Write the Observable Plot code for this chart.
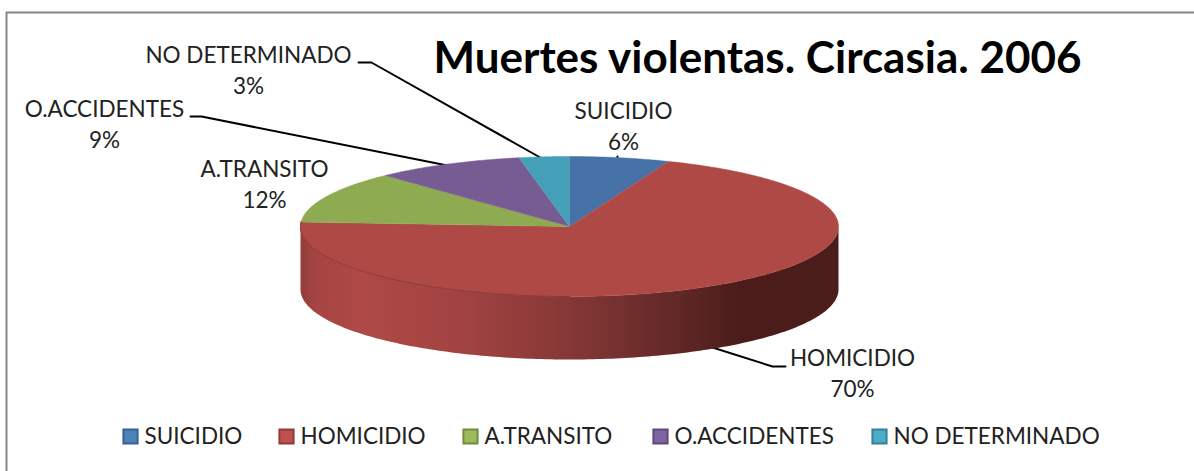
<!DOCTYPE html>
<html><head><meta charset="utf-8">
<script src="https://cdn.jsdelivr.net/npm/d3@7"></script>
<script src="https://cdn.jsdelivr.net/npm/@observablehq/plot@0.6"></script>
<style>html,body{margin:0;padding:0;background:#fff}svg{display:block}</style>
</head><body><div id="chart"></div>
<script>
const categories = ["SUICIDIO","HOMICIDIO","A.TRANSITO","O.ACCIDENTES","NO DETERMINADO"];
const percents = [6,70,12,9,3];
const faceColors = ["#4672A8","#AE4946","#8FAB51","#775B93","#449FB8"];
const swatchColors = ["#4F81BD","#C0504D","#9BBB59","#8064A2","#4BACC6"];
const swatchBorders = ["#3A6193","#8F3B39","#718B42","#5F4A79","#37809A"];

const W = 1194, H = 471;
const pie = {cx:569, cy:226, rx:269, ry:70, depth:63};
const arcPoint = (deg, dy=0) => {
  const a = deg*Math.PI/180;
  return {x: pie.cx + pie.rx*Math.sin(a), y: pie.cy - pie.ry*Math.cos(a) + dy};
};
// top-face polygons from the percentages
const faces = [];
let acc = 0;
categories.forEach((c,i)=>{
  const a0 = acc*3.6, a1 = (acc+percents[i])*3.6;
  faces.push({slice:c, x:pie.cx, y:pie.cy});
  for (let d=a0; d<a1; d+=0.5) faces.push({slice:c, ...arcPoint(d)});
  faces.push({slice:c, ...arcPoint(a1)});
  acc += percents[i];
});
// visible side wall: the front half of the rim
const wall = [];
for (let d=90; d<=270; d+=1) wall.push(arcPoint(d));
for (let d=270; d>=90; d-=1) wall.push(arcPoint(d, pie.depth));
const rim = [];
for (let d=180; d<=274; d+=1) rim.push(arcPoint(d));

const labelPos = [
  {name:0, x:623, y:111},
  {name:1, x:852, y:358},
  {name:2, x:264, y:169},
  {name:3, x:104, y:109},
  {name:4, x:248, y:55}
];
const labels = labelPos.flatMap(p=>[
  {x:p.x, y:p.y, t:categories[p.name]},
  {x:p.x, y:p.y+31.5, t:percents[p.name]+"%"}
]);
const leaders = [
  {id:"nd", x:358,y:62},{id:"nd", x:371,y:62},{id:"nd", x:545,y:160},
  {id:"oa", x:190,y:116},{id:"oa", x:201,y:116},{id:"oa", x:452,y:166},
  {id:"ho", x:712,y:347},{id:"ho", x:772,y:366},{id:"ho", x:785,y:366},
  {id:"su", x:617,y:156},{id:"su", x:617,y:158}
];
const legendX = [122,278,462,652,871];
const legendY = 436;
const legend = categories.map((c,i)=>({c, x:legendX[i]+8, tx:legendX[i]+22, fill:swatchColors[i], stroke:swatchBorders[i]}));
const frame = [{x:6,y:471},{x:6,y:12},{x:1194,y:12}];

const defs = () => {
  const d = d3.create("svg:defs");
  const g = d.append("linearGradient").attr("id","side").attr("gradientUnits","userSpaceOnUse")
    .attr("x1",pie.cx-pie.rx).attr("x2",pie.cx+pie.rx).attr("y1",0).attr("y2",0);
  [[0,"#933D3B"],[0.03,"#A64543"],[0.12,"#AE4946"],[0.3,"#A24341"],[0.5,"#853836"],[0.68,"#642A28"],[0.82,"#4B1C1A"],[1,"#4B1D1B"]]
    .forEach(([o,c])=>g.append("stop").attr("offset",o).attr("stop-color",c));
  return d.node();
};

const font = "Lato, Carlito, Calibri, sans-serif";
const chart = Plot.plot({
  width:W, height:H, margin:0,
  style:{background:"#fff", fontFamily:font},
  x:{type:"identity", axis:null}, y:{type:"identity", axis:null},
  color:{domain:categories, range:faceColors},
  marks:[
    defs,
    Plot.line(frame,{x:"x",y:"y",stroke:"#868686",strokeWidth:2}),
    Plot.line(leaders,{x:"x",y:"y",z:"id",stroke:"#000",strokeWidth:2}),
    Plot.line(wall,{x:"x",y:"y",fill:"url(#side)",stroke:"none"}),
    Plot.line(faces,{x:"x",y:"y",z:"slice",fill:"slice",stroke:"slice",strokeWidth:0.5}),
    Plot.line(rim,{x:"x",y:"y",stroke:"#8A3836",strokeWidth:1}),
    Plot.text(labels,{x:"x",y:"y",text:"t",fontSize:22.5,fill:"#222",textAnchor:"middle",lineAnchor:"middle"}),
    Plot.text(["Muertes violentas. Circasia. 2006"],{x:()=>757,y:()=>58,text:d=>d,fontSize:44,fontWeight:700,fill:"#000",textAnchor:"middle",lineAnchor:"middle"}),
    Plot.dot(legend,{x:"x",y:()=>legendY,symbol:"square",r:8,fill:"fill",stroke:"stroke",strokeWidth:2}),
    Plot.text(legend,{x:"tx",y:()=>legendY,text:"c",fontSize:22.5,fill:"#222",textAnchor:"start",lineAnchor:"middle"})
  ]
});
document.getElementById("chart").append(chart);
</script></body></html>
